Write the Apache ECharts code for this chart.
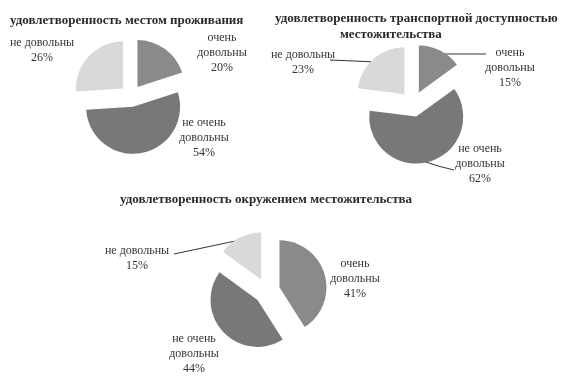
<!DOCTYPE html>
<html>
<head>
<meta charset="utf-8">
<script src="https://cdn.jsdelivr.net/npm/echarts@6/dist/echarts.min.js"></script>
<style>
html,body{margin:0;padding:0;background:#fff;}
#c{width:570px;height:390px;}
</style>
</head>
<body>
<div id="c"></div>
<script>
// ---- data ----
const categories = ['очень довольны', 'не очень довольны', 'не довольны'];
const labelTexts = ['очень\nдовольны', 'не очень\nдовольны', 'не довольны'];
const placeValues = [20, 54, 26];
const transportValues = [15, 62, 23];
const surroundValues = [41, 44, 15];
const titleTexts = [
  'удовлетворенность местом проживания',
  'удовлетворенность транспортной доступностью',
  'местожительства',
  'удовлетворенность окружением местожительства'
];

// ---- styles / layout ----
const sliceColors = ['#8a8a8a', '#787878', '#d9d9d9'];
const FONT = '"Liberation Serif", "DejaVu Serif", serif';
const pies = [
  { values: placeValues, center: [131, 96], r: 47, offset: 11,
    labelPos: [[222, 53], [204, 138], [42, 50]],
    leaders: [null, null, null] },
  { values: transportValues, center: [413, 104], r: 47, offset: 13,
    labelPos: [[510, 68], [480, 164], [303, 62]],
    leaders: [
      [[432, 54], [460, 54], [486, 54]],
      [[420, 160], [438, 166], [454, 170]],
      [[378, 62], [354, 61], [330, 60]]
    ] },
  { values: surroundValues, center: [267, 291], r: 47, offset: 13,
    labelPos: [[355, 279], [194, 354], [137, 258]],
    leaders: [null, null, [[240, 240], [207, 247], [174, 254]]] }
];

const chart = echarts.init(document.getElementById('c'), null, { renderer: 'canvas' });

const series = [];
pies.forEach(function (p) {
  // exploded slices
  series.push({
    type: 'pie',
    animation: false,
    silent: true,
    center: p.center,
    radius: [0, p.r],
    startAngle: 90,
    clockwise: true,
    selectedMode: 'multiple',
    selectedOffset: p.offset,
    emphasis: { disabled: true },
    itemStyle: { borderWidth: 0 },
    label: { show: false },
    labelLine: { show: false },
    data: categories.map(function (name, i) {
      return { name: name, value: p.values[i], selected: true,
               itemStyle: { color: sliceColors[i] } };
    })
  });
  // labels (same data, invisible sectors)
  series.push({
    type: 'pie',
    animation: false,
    silent: true,
    center: p.center,
    radius: [0, p.r],
    startAngle: 90,
    clockwise: true,
    selectedMode: false,
    emphasis: { disabled: true },
    itemStyle: { color: 'rgba(0,0,0,0)', borderWidth: 0 },
    label: {
      show: true,
      position: 'outside',
      color: '#333333',
      fontFamily: FONT,
      fontSize: 12,
      lineHeight: 15,
      align: 'center',
      formatter: function (params) {
        return labelTexts[params.dataIndex] + '\n' + params.value + '%';
      }
    },
    labelLine: { show: true, length: 5, length2: 5, lineStyle: { color: '#333', width: 1 } },
    labelLayout: function (params) {
      const pos = p.labelPos[params.dataIndex];
      const out = { x: pos[0], y: pos[1], align: 'center', verticalAlign: 'middle' };
      const ld = p.leaders[params.dataIndex];
      if (ld) out.labelLinePoints = ld;
      return out;
    },
    data: categories.map(function (name, i) {
      return { name: name, value: p.values[i],
               labelLine: { show: !!p.leaders[i] } };
    })
  });
});

const titleStyle = { fontFamily: FONT, fontSize: 13, fontWeight: 'bold', color: '#2a2a2a' };
chart.setOption({
  backgroundColor: '#ffffff',
  title: [
    { text: titleTexts[0], left: 10, top: 14, padding: 0, textStyle: titleStyle },
    { text: titleTexts[1], left: 275, top: 12, padding: 0, textStyle: titleStyle },
    { text: titleTexts[2], left: 340, top: 28, padding: 0, textStyle: titleStyle },
    { text: titleTexts[3], left: 120, top: 193, padding: 0, textStyle: titleStyle }
  ],
  series: series
});
</script>
</body>
</html>
